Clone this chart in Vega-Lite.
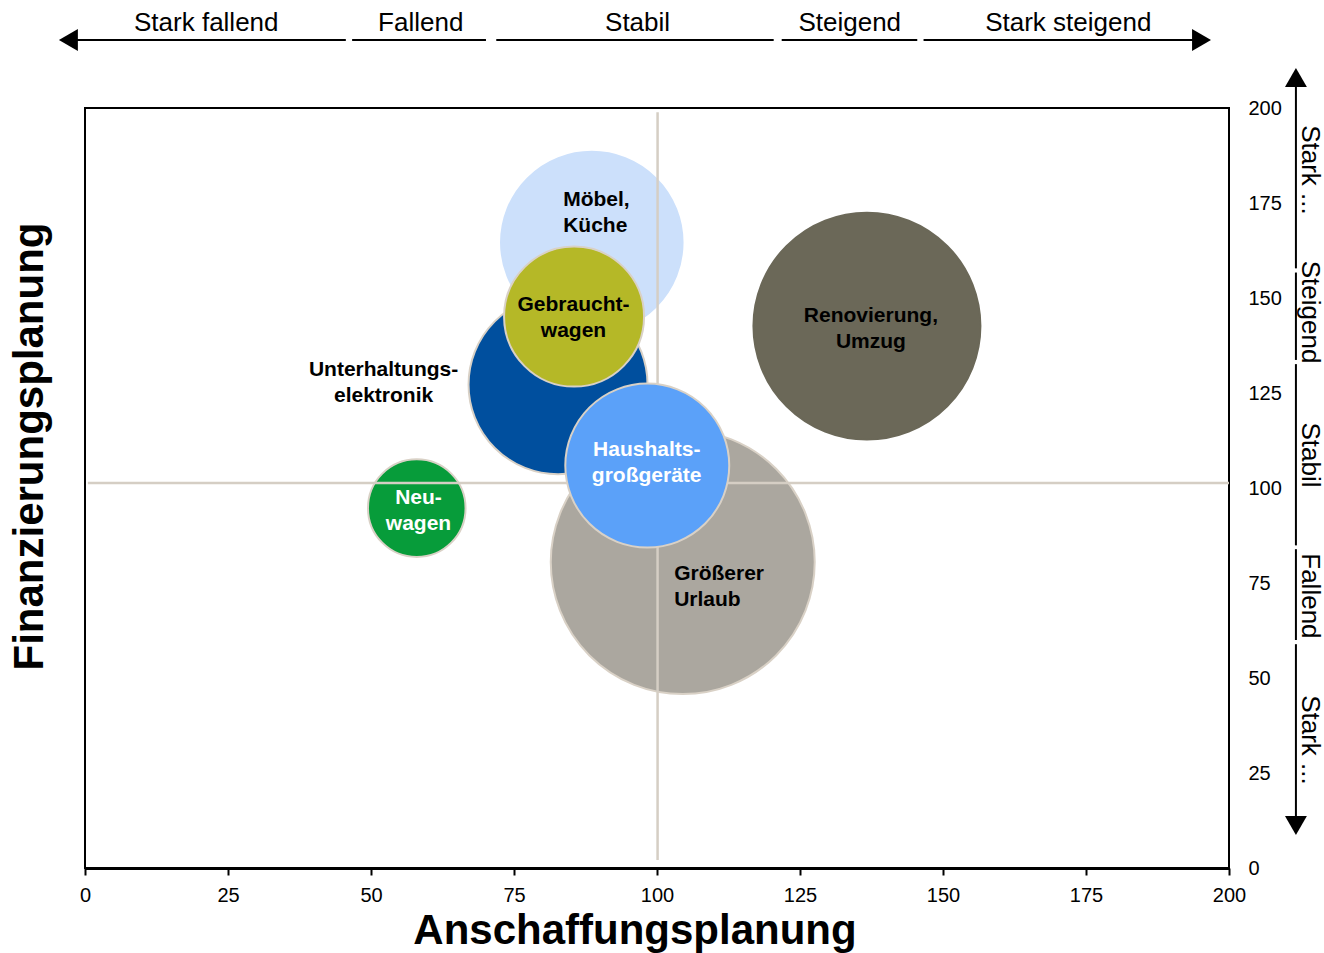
{
  "$schema": "https://vega.github.io/schema/vega-lite/v6.json",
  "width": 1144,
  "height": 760,
  "autosize": {"type": "none"},
  "padding": {"left": 85, "top": 108, "right": 95, "bottom": 85},
  "background": "white",
  "config": {
    "font": "Liberation Sans",
    "view": {"stroke": "black", "strokeWidth": 2},
    "axis": {"grid": false},
    "axisX": {"titleFontSize": 42, "titleFontWeight": "bold", "titleColor": "black", "titleX": 549.5, "titleY": 75, "titleAlign": "center", "titleBaseline": "alphabetic", "labelFontSize": 20, "labelColor": "black", "labelPadding": 10, "tickSize": 7, "tickWidth": 2, "tickColor": "black", "domainColor": "black", "domainWidth": 3, "labelFlush": false, "labelOverlap": false},
    "axisY": {"titleFontSize": 42, "titleFontWeight": "bold", "titleColor": "black", "titleAngle": 270, "titleX": -1187, "titleY": 338, "titleAlign": "center", "titleBaseline": "alphabetic", "labelFontSize": 20, "labelColor": "black", "labelPadding": 19, "labelAlign": "left", "labelBaseline": "middle", "ticks": false, "tickSize": 0, "domain": false, "labelFlush": false, "labelOverlap": false}
  },
  "datasets": {
    "blasen": [
      {"kategorie": "Größerer Urlaub", "anschaffung": 104.5, "finanzierung": 80.5, "volumen": 174.2, "lx": 103.0, "ly": 77.4, "text": ["Größerer", "Urlaub"]},
      {"kategorie": "Neuwagen", "anschaffung": 58.0, "finanzierung": 94.7, "volumen": 23.8, "lx": 58.3, "ly": 97.4, "text": ["Neu-", "wagen"]},
      {"kategorie": "Möbel, Küche", "anschaffung": 88.6, "finanzierung": 164.6, "volumen": 82.4, "lx": 83.6, "ly": 175.8, "text": ["Möbel,", "Küche"]},
      {"kategorie": "Unterhaltungselektronik", "anschaffung": 82.7, "finanzierung": 127.2, "volumen": 80.1, "lx": 52.2, "ly": 131.1, "text": ["Unterhaltungs-", "elektronik"]},
      {"kategorie": "Gebrauchtwagen", "anschaffung": 85.5, "finanzierung": 145.1, "volumen": 49.0, "lx": 85.4, "ly": 148.2, "text": ["Gebraucht-", "wagen"]},
      {"kategorie": "Renovierung, Umzug", "anschaffung": 136.7, "finanzierung": 142.6, "volumen": 128.8, "lx": 137.4, "ly": 145.3, "text": ["Renovierung,", "Umzug"]},
      {"kategorie": "Haushaltsgroßgeräte", "anschaffung": 98.3, "finanzierung": 105.9, "volumen": 67.2, "lx": 98.2, "ly": 110.0, "text": ["Haushalts-", "großgeräte"]}
    ],
    "linien_v": [{"x": 100.1, "y": 2.1, "y2": 198.9}],
    "linien_h": [{"y": 101.3, "x": 0.5, "x2": 200}],
    "oben_segmente": [
      {"von": -2.9, "bis": 45.6},
      {"von": 46.7, "bis": 70.1},
      {"von": 71.9, "bis": 120.4},
      {"von": 121.8, "bis": 145.5},
      {"von": 146.6, "bis": 195.2}
    ],
    "oben_texte": [
      {"text": "Stark fallend", "x": 21.2},
      {"text": "Fallend", "x": 58.7},
      {"text": "Stabil", "x": 96.6},
      {"text": "Steigend", "x": 133.7},
      {"text": "Stark steigend", "x": 171.9}
    ],
    "oben_pfeile": [
      {"x": -2.9, "richtung": "links"},
      {"x": 195.2, "richtung": "rechts"}
    ],
    "rechts_segmente": [
      {"von": 208.0, "bis": 157.8},
      {"von": 156.7, "bis": 133.7},
      {"von": 132.6, "bis": 84.9},
      {"von": 83.9, "bis": 60.0},
      {"von": 58.9, "bis": 11.2}
    ],
    "rechts_texte": [
      {"text": "Stark ...", "y": 183.7},
      {"text": "Steigend", "y": 146.3},
      {"text": "Stabil", "y": 108.7},
      {"text": "Fallend", "y": 71.6},
      {"text": "Stark ...", "y": 33.7}
    ],
    "rechts_pfeile": [
      {"y": 208.0, "richtung": "hoch"},
      {"y": 11.2, "richtung": "runter"}
    ]
  },
  "layer": [
    {
      "data": {"name": "blasen"},
      "transform": [{"filter": "datum.kategorie !== 'Haushaltsgroßgeräte'"}],
      "mark": {"type": "point", "shape": "circle", "filled": true, "opacity": 1, "strokeWidth": 2},
      "encoding": {
        "x": {"field": "anschaffung", "type": "quantitative", "scale": {"domain": [0, 200], "nice": false, "zero": false},
          "axis": {"title": "Anschaffungsplanung", "values": [0, 25, 50, 75, 100, 125, 150, 175, 200]}},
        "y": {"field": "finanzierung", "type": "quantitative", "scale": {"domain": [0, 200], "nice": false, "zero": false},
          "axis": {"orient": "right", "title": "Finanzierungsplanung", "values": [0, 25, 50, 75, 100, 125, 150, 175, 200]}},
        "size": {"field": "volumen", "type": "quantitative", "scale": {"type": "linear", "domain": [0, 200], "range": [0, 80000], "zero": true}, "legend": null},
        "color": {"field": "kategorie", "type": "nominal", "legend": null,
          "scale": {"domain": ["Größerer Urlaub", "Neuwagen", "Möbel, Küche", "Unterhaltungselektronik", "Gebrauchtwagen", "Renovierung, Umzug", "Haushaltsgroßgeräte"],
                    "range": ["#aba79f", "#079c3a", "#cce0fb", "#004f9e", "#b5b827", "#6b6858", "#5ba1f9"]}},
        "stroke": {"field": "kategorie", "type": "nominal", "legend": null,
          "scale": {"domain": ["Größerer Urlaub", "Neuwagen", "Möbel, Küche", "Unterhaltungselektronik", "Gebrauchtwagen", "Renovierung, Umzug", "Haushaltsgroßgeräte"],
                    "range": ["#d9d1c6", "#d9d1c6", "#cce0fb", "#d9d1c6", "#d9d1c6", "#6b6858", "#d9d1c6"]}}
      }
    },
    {
      "data": {"name": "linien_v"},
      "mark": {"type": "rule", "color": "#d5cec4", "strokeWidth": 2.5},
      "encoding": {
        "x": {"field": "x", "type": "quantitative", "scale": {"domain": [0, 200], "nice": false, "zero": false},
          "axis": {"title": "Anschaffungsplanung", "values": [0, 25, 50, 75, 100, 125, 150, 175, 200]}},
        "y": {"field": "y", "type": "quantitative", "scale": {"domain": [0, 200], "nice": false, "zero": false},
          "axis": {"orient": "right", "title": "Finanzierungsplanung", "values": [0, 25, 50, 75, 100, 125, 150, 175, 200]}},
        "y2": {"field": "y2"}
      }
    },
    {
      "data": {"name": "linien_h"},
      "mark": {"type": "rule", "color": "#d5cec4", "strokeWidth": 2.5},
      "encoding": {
        "x": {"field": "x", "type": "quantitative", "scale": {"domain": [0, 200], "nice": false, "zero": false},
          "axis": {"title": "Anschaffungsplanung", "values": [0, 25, 50, 75, 100, 125, 150, 175, 200]}},
        "x2": {"field": "x2"},
        "y": {"field": "y", "type": "quantitative", "scale": {"domain": [0, 200], "nice": false, "zero": false},
          "axis": {"orient": "right", "title": "Finanzierungsplanung", "values": [0, 25, 50, 75, 100, 125, 150, 175, 200]}}
      }
    },
    {
      "data": {"name": "blasen"},
      "transform": [{"filter": "datum.kategorie === 'Haushaltsgroßgeräte'"}],
      "mark": {"type": "point", "shape": "circle", "filled": true, "opacity": 1, "strokeWidth": 2},
      "encoding": {
        "x": {"field": "anschaffung", "type": "quantitative", "scale": {"domain": [0, 200], "nice": false, "zero": false},
          "axis": {"title": "Anschaffungsplanung", "values": [0, 25, 50, 75, 100, 125, 150, 175, 200]}},
        "y": {"field": "finanzierung", "type": "quantitative", "scale": {"domain": [0, 200], "nice": false, "zero": false},
          "axis": {"orient": "right", "title": "Finanzierungsplanung", "values": [0, 25, 50, 75, 100, 125, 150, 175, 200]}},
        "size": {"field": "volumen", "type": "quantitative", "scale": {"type": "linear", "domain": [0, 200], "range": [0, 80000], "zero": true}, "legend": null},
        "color": {"field": "kategorie", "type": "nominal", "legend": null},
        "stroke": {"field": "kategorie", "type": "nominal", "legend": null}
      }
    },
    {
      "data": {"name": "blasen"},
      "transform": [{"filter": "datum.kategorie === 'Unterhaltungselektronik' || datum.kategorie === 'Gebrauchtwagen' || datum.kategorie === 'Renovierung, Umzug'"}],
      "mark": {"type": "text", "align": "center", "baseline": "middle", "fontSize": 21, "fontWeight": "bold", "lineHeight": 26, "color": "black"},
      "encoding": {
        "x": {"field": "lx", "type": "quantitative", "scale": {"domain": [0, 200], "nice": false, "zero": false},
          "axis": {"title": "Anschaffungsplanung", "values": [0, 25, 50, 75, 100, 125, 150, 175, 200]}},
        "y": {"field": "ly", "type": "quantitative", "scale": {"domain": [0, 200], "nice": false, "zero": false},
          "axis": {"orient": "right", "title": "Finanzierungsplanung", "values": [0, 25, 50, 75, 100, 125, 150, 175, 200]}},
        "text": {"field": "text"}
      }
    },
    {
      "data": {"name": "blasen"},
      "transform": [{"filter": "datum.kategorie === 'Möbel, Küche' || datum.kategorie === 'Größerer Urlaub'"}],
      "mark": {"type": "text", "align": "left", "baseline": "middle", "fontSize": 21, "fontWeight": "bold", "lineHeight": 26, "color": "black"},
      "encoding": {
        "x": {"field": "lx", "type": "quantitative", "scale": {"domain": [0, 200], "nice": false, "zero": false},
          "axis": {"title": "Anschaffungsplanung", "values": [0, 25, 50, 75, 100, 125, 150, 175, 200]}},
        "y": {"field": "ly", "type": "quantitative", "scale": {"domain": [0, 200], "nice": false, "zero": false},
          "axis": {"orient": "right", "title": "Finanzierungsplanung", "values": [0, 25, 50, 75, 100, 125, 150, 175, 200]}},
        "text": {"field": "text"}
      }
    },
    {
      "data": {"name": "blasen"},
      "transform": [{"filter": "datum.kategorie === 'Neuwagen' || datum.kategorie === 'Haushaltsgroßgeräte'"}],
      "mark": {"type": "text", "align": "center", "baseline": "middle", "fontSize": 21, "fontWeight": "bold", "lineHeight": 26, "color": "white"},
      "encoding": {
        "x": {"field": "lx", "type": "quantitative", "scale": {"domain": [0, 200], "nice": false, "zero": false},
          "axis": {"title": "Anschaffungsplanung", "values": [0, 25, 50, 75, 100, 125, 150, 175, 200]}},
        "y": {"field": "ly", "type": "quantitative", "scale": {"domain": [0, 200], "nice": false, "zero": false},
          "axis": {"orient": "right", "title": "Finanzierungsplanung", "values": [0, 25, 50, 75, 100, 125, 150, 175, 200]}},
        "text": {"field": "text"}
      }
    },
    {
      "data": {"name": "oben_segmente"},
      "mark": {"type": "rule", "color": "black", "strokeWidth": 2},
      "encoding": {
        "x": {"field": "von", "type": "quantitative", "scale": {"domain": [0, 200], "nice": false, "zero": false},
          "axis": {"title": "Anschaffungsplanung", "values": [0, 25, 50, 75, 100, 125, 150, 175, 200]}},
        "x2": {"field": "bis"},
        "y": {"datum": 217.9, "type": "quantitative", "scale": {"domain": [0, 200], "nice": false, "zero": false},
          "axis": {"orient": "right", "title": "Finanzierungsplanung", "values": [0, 25, 50, 75, 100, 125, 150, 175, 200]}}
      }
    },
    {
      "data": {"name": "oben_texte"},
      "mark": {"type": "text", "align": "center", "baseline": "alphabetic", "fontSize": 26, "color": "black"},
      "encoding": {
        "x": {"field": "x", "type": "quantitative", "scale": {"domain": [0, 200], "nice": false, "zero": false},
          "axis": {"title": "Anschaffungsplanung", "values": [0, 25, 50, 75, 100, 125, 150, 175, 200]}},
        "y": {"datum": 220.3, "type": "quantitative", "scale": {"domain": [0, 200], "nice": false, "zero": false},
          "axis": {"orient": "right", "title": "Finanzierungsplanung", "values": [0, 25, 50, 75, 100, 125, 150, 175, 200]}},
        "text": {"field": "text"}
      }
    },
    {
      "data": {"name": "oben_pfeile"},
      "mark": {"type": "point", "filled": true, "opacity": 1, "size": 480, "color": "black"},
      "encoding": {
        "x": {"field": "x", "type": "quantitative", "scale": {"domain": [0, 200], "nice": false, "zero": false},
          "axis": {"title": "Anschaffungsplanung", "values": [0, 25, 50, 75, 100, 125, 150, 175, 200]}},
        "y": {"datum": 217.9, "type": "quantitative", "scale": {"domain": [0, 200], "nice": false, "zero": false},
          "axis": {"orient": "right", "title": "Finanzierungsplanung", "values": [0, 25, 50, 75, 100, 125, 150, 175, 200]}},
        "shape": {"field": "richtung", "type": "nominal", "legend": null,
          "scale": {"domain": ["links", "rechts", "hoch", "runter"], "range": ["triangle-left", "triangle-right", "triangle-up", "triangle-down"]}}
      }
    },
    {
      "data": {"name": "rechts_segmente"},
      "mark": {"type": "rule", "color": "black", "strokeWidth": 2},
      "encoding": {
        "x": {"datum": 211.7, "type": "quantitative", "scale": {"domain": [0, 200], "nice": false, "zero": false},
          "axis": {"title": "Anschaffungsplanung", "values": [0, 25, 50, 75, 100, 125, 150, 175, 200]}},
        "y": {"field": "von", "type": "quantitative", "scale": {"domain": [0, 200], "nice": false, "zero": false},
          "axis": {"orient": "right", "title": "Finanzierungsplanung", "values": [0, 25, 50, 75, 100, 125, 150, 175, 200]}},
        "y2": {"field": "bis"}
      }
    },
    {
      "data": {"name": "rechts_texte"},
      "mark": {"type": "text", "align": "center", "baseline": "alphabetic", "angle": 90, "fontSize": 26, "color": "black"},
      "encoding": {
        "x": {"datum": 212.8, "type": "quantitative", "scale": {"domain": [0, 200], "nice": false, "zero": false},
          "axis": {"title": "Anschaffungsplanung", "values": [0, 25, 50, 75, 100, 125, 150, 175, 200]}},
        "y": {"field": "y", "type": "quantitative", "scale": {"domain": [0, 200], "nice": false, "zero": false},
          "axis": {"orient": "right", "title": "Finanzierungsplanung", "values": [0, 25, 50, 75, 100, 125, 150, 175, 200]}},
        "text": {"field": "text"}
      }
    },
    {
      "data": {"name": "rechts_pfeile"},
      "mark": {"type": "point", "filled": true, "opacity": 1, "size": 480, "color": "black"},
      "encoding": {
        "x": {"datum": 211.7, "type": "quantitative", "scale": {"domain": [0, 200], "nice": false, "zero": false},
          "axis": {"title": "Anschaffungsplanung", "values": [0, 25, 50, 75, 100, 125, 150, 175, 200]}},
        "y": {"field": "y", "type": "quantitative", "scale": {"domain": [0, 200], "nice": false, "zero": false},
          "axis": {"orient": "right", "title": "Finanzierungsplanung", "values": [0, 25, 50, 75, 100, 125, 150, 175, 200]}},
        "shape": {"field": "richtung", "type": "nominal", "legend": null}
      }
    }
  ]
}
